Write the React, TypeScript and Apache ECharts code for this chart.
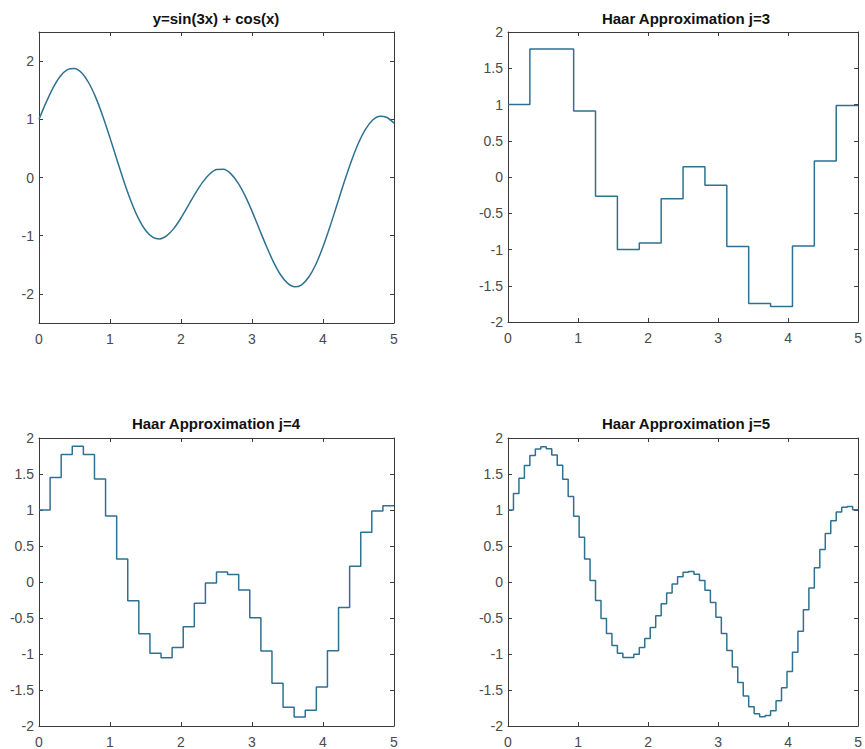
import React, { useEffect, useRef } from "react";
import * as echarts from "echarts";

const curveX = [
  0, 0.1, 0.2, 0.3, 0.4, 0.5, 0.6, 0.7, 0.8, 0.9, 1.0, 1.1, 1.2, 1.3, 1.4, 1.5, 1.6,
  1.7, 1.8, 1.9, 2.0, 2.1, 2.2, 2.3, 2.4, 2.5, 2.6, 2.7, 2.8, 2.9, 3.0, 3.1, 3.2, 3.3,
  3.4, 3.5, 3.6, 3.7, 3.8, 3.9, 4.0, 4.1, 4.2, 4.3, 4.4, 4.5, 4.6, 4.7, 4.8, 4.9, 5.0,
];
const curveY = [
  1.0, 1.29, 1.545, 1.739, 1.853, 1.875, 1.799, 1.628, 1.372, 1.049, 0.681, 0.296,
  -0.08, -0.42, -0.702, -0.907, -1.025, -1.055, -1.0, -0.874, -0.696, -0.488, -0.277,
  -0.088, 0.056, 0.137, 0.142, 0.066, -0.088, -0.308, -0.578, -0.875, -1.173, -1.445,
  -1.667, -1.816, -1.878, -1.843, -1.71, -1.49, -1.19, -0.838, -0.457, -0.073, 0.285,
  0.593, 0.832, 0.987, 1.052, 1.031, 0.934,
];

// Haar approximation levels (step values, equal-width intervals over [0, 5])
const haarJ3 = [
  1.0, 1.765, 1.765, 0.91, -0.265, -1.0, -0.91, -0.3, 0.14, -0.115, -0.96, -1.745,
  -1.785, -0.95, 0.22, 0.985,
];
const haarJ4 = [
  1.0, 1.45, 1.77, 1.885, 1.77, 1.43, 0.915, 0.32, -0.26, -0.72, -0.99, -1.052, -0.91,
  -0.62, -0.295, -0.015, 0.14, 0.105, -0.11, -0.495, -0.96, -1.405, -1.74, -1.875,
  -1.78, -1.46, -0.955, -0.355, 0.22, 0.69, 0.985, 1.06,
];
const haarJ5 = [
  1.0, 1.229, 1.44, 1.619, 1.758, 1.846, 1.879, 1.852, 1.765, 1.621, 1.426, 1.186, 0.913,
  0.621, 0.319, 0.021, -0.256, -0.506, -0.717, -0.881, -0.991, -1.047, -1.049, -1.003,
  -0.911, -0.785, -0.632, -0.468, -0.303, -0.152, -0.027, 0.074, 0.137, 0.147, 0.109,
  0.02, -0.113, -0.285, -0.488, -0.714, -0.95, -1.181, -1.396, -1.582, -1.731, -1.829,
  -1.873, -1.855, -1.787, -1.651, -1.469, -1.243, -0.974, -0.685, -0.384, -0.085, 0.197,
  0.452, 0.673, 0.85, 0.973, 1.039, 1.049, 1.004,
];

const titles = ["y=sin(3x) + cos(x)", "Haar Approximation j=3", "Haar Approximation j=4", "Haar Approximation j=5"];
const yTicksTop = [-2, -1, 0, 1, 2];

const X_MAX = 5;

function stepData(vals: number[]) {
  const w = X_MAX / vals.length;
  const d: number[][] = vals.map((v, i) => [i * w, v]);
  d.push([X_MAX, vals[vals.length - 1]]);
  return d;
}

export default function App() {
  const ref = useRef<HTMLDivElement>(null);
  useEffect(() => {
    if (!ref.current) return;
    const chart = echarts.init(ref.current, undefined, { renderer: "svg" });
    const FONT = "'Liberation Sans', Arial, Helvetica, sans-serif";
    const axisColor = "#3a3a3a";
    const labelColor = "#4a4a4a";
    const lineColor = "#2e7191";

    const grids = [
      { left: 39, top: 32, width: 355, height: 291 },
      { left: 508, top: 32, width: 354, height: 290 },
      { left: 39, top: 438, width: 355, height: 289 },
      { left: 508, top: 438, width: 354, height: 289 },
    ];
    const titleCenters = [
      [216, 18],
      [686, 18],
      [216, 423],
      [686, 423],
    ];

    const xAxes: any[] = [];
    const yAxes: any[] = [];
    grids.forEach((_, gi) => {
      const common = {
        type: "value",
        gridIndex: gi,
        min: 0,
        max: 5,
        interval: 1,
        splitLine: { show: false },
        axisLine: { show: true, onZero: false, lineStyle: { color: axisColor, width: 1 } },
        axisTick: { show: true, inside: true, length: 4, lineStyle: { color: axisColor } },
      };
      xAxes.push({
        ...common,
        position: "bottom",
        axisLabel: { show: true, color: labelColor, fontSize: 14, fontFamily: FONT, margin: 9 },
      });
      xAxes.push({ ...common, position: "top", axisLabel: { show: false } });

      const yCommon: any = {
        type: "value",
        gridIndex: gi,
        min: gi === 0 ? -2.5 : -2,
        max: gi === 0 ? 2.5 : 2,
        splitLine: { show: false },
        axisLine: { show: true, onZero: false, lineStyle: { color: axisColor, width: 1 } },
        axisTick: { show: true, inside: true, length: 4, lineStyle: { color: axisColor } },
      };
      if (gi !== 0) yCommon.interval = 0.5;
      if (gi === 0) yCommon.axisTick.customValues = yTicksTop;
      yAxes.push({
        ...yCommon,
        position: "left",
        axisLabel: {
          show: true,
          color: labelColor,
          fontSize: 14,
          fontFamily: FONT,
          margin: 5,
          ...(gi === 0 ? { customValues: yTicksTop } : {}),
        },
      });
      yAxes.push({ ...yCommon, position: "right", axisLabel: { show: false } });
    });

    const curveData = curveX.map((x, i) => [x, curveY[i]]);
    const seriesData = [curveData, stepData(haarJ3), stepData(haarJ4), stepData(haarJ5)];

    const series = seriesData.map((d, gi) => ({
      type: "line",
      xAxisIndex: gi * 2,
      yAxisIndex: gi * 2,
      data: d,
      showSymbol: false,
      symbol: "none",
      smooth: gi === 0 ? 0.3 : false,
      step: gi === 0 ? false : "end",
      lineStyle: { color: lineColor, width: 1.5 },
      silent: true,
    }));

    const graphic = titles.map((t, i) => ({
      type: "text",
      x: titleCenters[i][0],
      y: titleCenters[i][1],
      style: {
        text: t,
        fill: "#111",
        font: `bold 15px ${FONT}`,
        textAlign: "center",
        textVerticalAlign: "middle",
      },
    }));

    chart.setOption({
      animation: false,
      backgroundColor: "#ffffff",
      grid: grids,
      xAxis: xAxes,
      yAxis: yAxes,
      series,
      graphic,
    });
    return () => chart.dispose();
  }, []);
  return (
    <div
      ref={ref}
      style={{ position: "fixed", left: 0, top: 0, width: 865, height: 749, background: "#fff" }}
    />
  );
}
